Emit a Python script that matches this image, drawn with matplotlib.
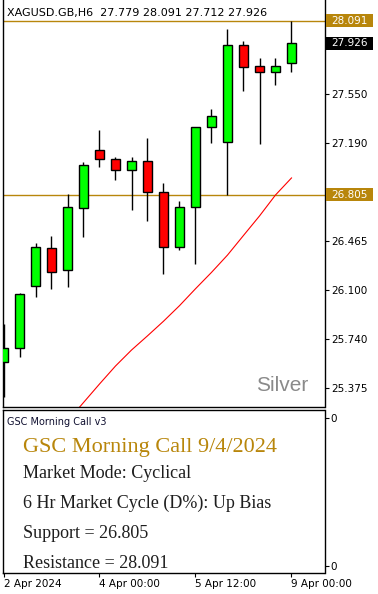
import matplotlib
matplotlib.use("Agg")
import matplotlib.pyplot as plt
from matplotlib.patches import Rectangle
from matplotlib.transforms import blended_transform_factory

# chart data (H6 candles)
symbol = "XAGUSD.GB,H6"
opens  = [25.571, 25.674, 26.132, 26.413, 26.251, 26.709, 27.138, 27.071, 26.990, 27.056,
          26.827, 26.421, 26.716, 27.308, 27.197, 27.914, 27.758, 27.714, 27.779]
highs  = [25.852, 26.081, 26.450, 26.502, 26.812, 27.049, 27.285, 27.086, 27.086, 27.226,
          26.894, 26.761, 27.308, 27.441, 28.032, 27.943, 27.818, 27.818, 28.091]
lows   = [25.312, 25.608, 26.051, 26.110, 26.125, 26.495, 27.012, 26.916, 26.694, 26.613,
          26.221, 26.398, 26.295, 27.189, 26.805, 27.574, 27.182, 27.618, 27.712]
closes = [25.674, 26.073, 26.421, 26.236, 26.716, 27.027, 27.071, 26.990, 27.056, 26.827,
          26.421, 26.716, 27.308, 27.389, 27.914, 27.751, 27.714, 27.758, 27.926]

# red moving average
ma_idx  = list(range(4, 19))
ma_vals = [25.134, 25.271, 25.408, 25.541, 25.659, 25.764, 25.872, 25.987, 26.112,
           26.233, 26.361, 26.506, 26.650, 26.805, 26.931]

resistance = 28.091
support = 26.805
last_price = 27.926
price_ticks = [27.550, 27.190, 26.830, 26.465, 26.100, 25.740, 25.375]
hidden_ticks = [26.830]   # sits under the support box

date_idx = [0, 6, 12, 18]
date_labels = ["2 Apr 2024", "4 Apr 00:00", "5 Apr 12:00", "9 Apr 00:00"]

panel_name = "GSC Morning Call v3"
panel_title = "GSC Morning Call 9/4/2024"
panel_lines = ["Market Mode: Cyclical",
               "6 Hr Market Cycle (D%): Up Bias",
               "Support = 26.805",
               "Resistance = 28.091"]

gold = "#B8860B"
W, H = 378, 594

fig = plt.figure(figsize=(W / 100, H / 100), dpi=100)
fig.patch.set_facecolor("white")

# axes placed in pixel units
def px_axes(x0, y0, x1, y1):
    return fig.add_axes([x0 / W, 1 - y1 / H, (x1 - x0) / W, (y1 - y0) / H])

ax = px_axes(2.5, 0, 324.5, 407)
ax2 = px_axes(2.5, 410, 324.5, 573)

xmin, xmax = -0.0625, 20.0625

# ---- main price panel
ax.set_xlim(xmin, xmax)
ax.set_ylim(25.2381, 28.2462)
for s in ["left", "right", "bottom"]:
    ax.spines[s].set_color("black")
    ax.spines[s].set_linewidth(1)
ax.spines["top"].set_visible(False)

ax.axhline(resistance, color=gold, lw=1, zorder=1)
ax.axhline(support, color=gold, lw=1, zorder=1)

ax.plot(ma_idx, ma_vals, color="red", lw=0.8, zorder=2)

for i, (o, h, l, c) in enumerate(zip(opens, highs, lows, closes)):
    fc = "#00FF00" if c >= o else "#FF0000"
    ax.vlines(i, l, h, color="black", lw=1, zorder=3)
    ax.add_patch(Rectangle((i - 0.3, min(o, c)), 0.6, abs(c - o),
                           fc=fc, ec="black", lw=1, zorder=4))

ax.set_xticks([])
ax.yaxis.tick_right()
ax.set_yticks(price_ticks)
ax.set_yticklabels(["" if p in hidden_ticks else f"{p:.3f}" for p in price_ticks])
ax.tick_params(axis="y", direction="out", length=3, width=0.8, pad=1.5,
               labelsize=7.5, colors="black")

ax.text(0.014, 0.9595, f"{symbol}  {opens[-1]:.3f} {highs[-1]:.3f} {lows[-1]:.3f} {closes[-1]:.3f}",
        transform=ax.transAxes, fontsize=8, color="black", va="baseline", ha="left")

ax.text(0.9488, 0.0393, "Silver", transform=ax.transAxes, fontsize=15,
        family="Liberation Sans", color="#8a8a8a", ha="right", va="baseline")

# price boxes on the right scale
tr = blended_transform_factory(ax.transAxes, ax.transData)
box_w = 47 / 322
box_h = 13 / 135.3
for val, col in [(resistance, gold), (last_price, "black"), (support, gold)]:
    ax.add_patch(Rectangle((1.004, val - box_h / 2), box_w, box_h, transform=tr,
                           fc=col, ec="none", clip_on=False, zorder=10))
    ax.text(1.0 + 6.5 / 322, val, f"{val:.3f}", transform=tr, fontsize=7.5,
            color="white", ha="left", va="center", clip_on=False, zorder=11)

# ---- lower indicator panel
ax2.set_xlim(xmin, xmax)
ax2.set_ylim(0, 1)
for s in ax2.spines.values():
    s.set_color("black")
    s.set_linewidth(1)
ax2.yaxis.tick_right()
ax2.set_yticks([0.951, 0.043])
ax2.set_yticklabels(["0", "0"])
ax2.tick_params(axis="y", direction="out", length=3, width=0.8, pad=1.5, labelsize=7.5)
ax2.set_xticks(date_idx)
ax2.set_xticklabels(date_labels, ha="left")
ax2.tick_params(axis="x", direction="out", length=3, width=0.8, pad=1, labelsize=7.5)

ax2.text(0.014, 0.908, panel_name, transform=ax2.transAxes, fontsize=7,
         color="#101030", va="baseline")
ax2.text(0.0637, 0.742, panel_title, transform=ax2.transAxes, fontsize=16,
         family="Liberation Serif", color=gold, va="baseline")
for txt, y in zip(panel_lines, [0.583, 0.399, 0.215, 0.031]):
    ax2.text(0.0637, y, txt, transform=ax2.transAxes, fontsize=13,
             family="Liberation Serif", color="#1e1e1e", va="baseline")

fig.savefig("out.png", dpi=100, facecolor="white")
